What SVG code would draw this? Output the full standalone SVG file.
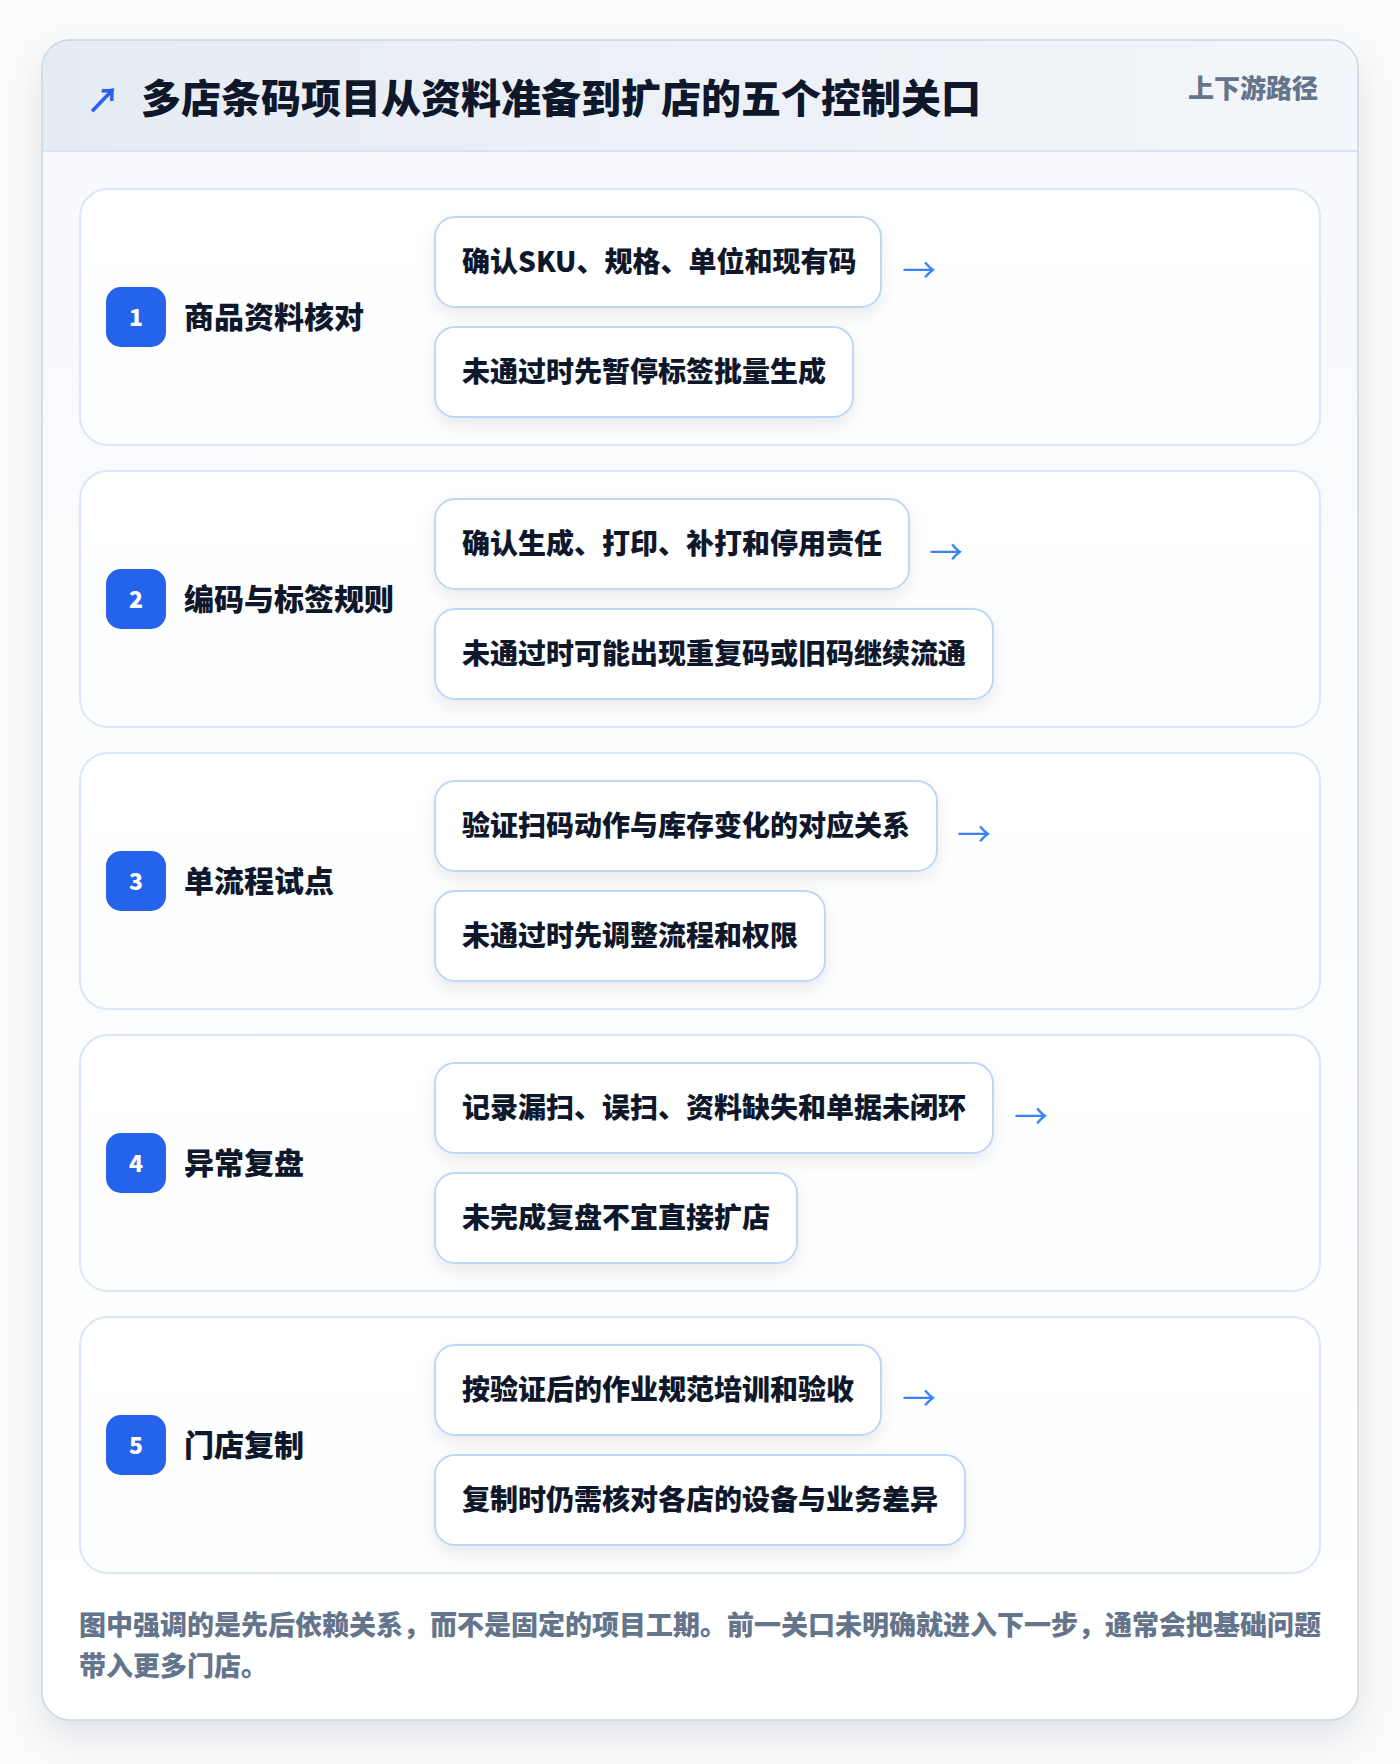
<svg xmlns="http://www.w3.org/2000/svg" width="1400" height="1764" viewBox="0 0 1400 1764">
<defs>
<style>
.t{font-family:'Noto Sans CJK SC','Noto Sans',sans-serif;font-weight:800}
.title{font-size:40px;fill:#0f172a;font-weight:900}
.tag{font-size:26px;fill:#64748b}
.lab{font-size:30px;fill:#0f172a}
.num{font-size:23px;fill:#ffffff}
.bx{font-size:28px;fill:#0f172a}
.arr{font-size:34px;fill:#3b82f6;font-weight:400}
.foot{font-size:27px;fill:#64748b}
.row{fill:url(#rowg);stroke:#dbe7f8;stroke-width:2}
.sub{fill:#ffffff;stroke:#bfd6f6;stroke-width:2}
.badge{fill:#2563eb}
</style>
<linearGradient id="hdr" x1="0" y1="0" x2="1" y2="0">
<stop offset="0" stop-color="#e6ecf4"/>
<stop offset="1" stop-color="#f3f6fa"/>
</linearGradient>
<linearGradient id="body" x1="0" y1="0" x2="0" y2="1">
<stop offset="0" stop-color="#f7f9fc"/>
<stop offset="1" stop-color="#ffffff"/>
</linearGradient>
<linearGradient id="rowg" x1="0" y1="0" x2="0" y2="1">
<stop offset="0" stop-color="#ffffff"/>
<stop offset="1" stop-color="#fcfdff"/>
</linearGradient>
<filter id="cardsh" x="-10%" y="-10%" width="120%" height="120%">
<feDropShadow dx="0" dy="16" stdDeviation="18" flood-color="#0f172a" flood-opacity="0.10"/>
</filter>
<filter id="subsh" x="-20%" y="-30%" width="140%" height="180%">
<feDropShadow dx="0" dy="7" stdDeviation="8" flood-color="#0f172a" flood-opacity="0.08"/>
</filter>
<clipPath id="cardclip"><rect x="42" y="40" width="1316" height="1680" rx="28"/></clipPath>
</defs>
<rect x="0" y="0" width="1400" height="1764" fill="#fafbfc"/>
<g id="card">
<rect x="42" y="40" width="1316" height="1680" rx="28" fill="url(#body)" filter="url(#cardsh)"/>
<g clip-path="url(#cardclip)">
<rect x="42" y="40" width="1316" height="112" fill="url(#hdr)"/>
<line x1="42" y1="151" x2="1358" y2="151" stroke="#d6e4f6" stroke-width="2"/>
</g>
<rect x="42" y="40" width="1316" height="1680" rx="28" fill="none" stroke="#cdd6e2" stroke-width="1.5"/>
</g>
<g id="header">
<text class="t" x="86" y="113" font-size="34" fill="#2563eb" style="font-weight:700">↗</text>
<text class="t title" x="141" y="113">多店条码项目从资料准备到扩店的五个控制关口</text>
<text class="t tag" x="1318" y="98" text-anchor="end">上下游路径</text>
</g>
<g id="node1">
<rect class="row" x="80" y="189" width="1240" height="256" rx="28"/>
<rect class="badge" x="106" y="287" width="60" height="60" rx="15"/>
<text class="t num" x="136" y="326" text-anchor="middle">1</text>
<text class="t lab" x="184" y="328">商品资料核对</text>
<rect class="sub" x="435" y="217" width="446" height="90" rx="20" filter="url(#subsh)"/>
<text class="t bx" x="462" y="272">确认SKU、规格、单位和现有码</text>
<rect class="sub" x="435" y="327" width="418" height="90" rx="20" filter="url(#subsh)"/>
<text class="t bx" x="462" y="382">未通过时先暂停标签批量生成</text>
</g>
<g id="node2">
<rect class="row" x="80" y="471" width="1240" height="256" rx="28"/>
<rect class="badge" x="106" y="569" width="60" height="60" rx="15"/>
<text class="t num" x="136" y="608" text-anchor="middle">2</text>
<text class="t lab" x="184" y="610">编码与标签规则</text>
<rect class="sub" x="435" y="499" width="474" height="90" rx="20" filter="url(#subsh)"/>
<text class="t bx" x="462" y="554">确认生成、打印、补打和停用责任</text>
<rect class="sub" x="435" y="609" width="558" height="90" rx="20" filter="url(#subsh)"/>
<text class="t bx" x="462" y="664">未通过时可能出现重复码或旧码继续流通</text>
</g>
<g id="node3">
<rect class="row" x="80" y="753" width="1240" height="256" rx="28"/>
<rect class="badge" x="106" y="851" width="60" height="60" rx="15"/>
<text class="t num" x="136" y="890" text-anchor="middle">3</text>
<text class="t lab" x="184" y="892">单流程试点</text>
<rect class="sub" x="435" y="781" width="502" height="90" rx="20" filter="url(#subsh)"/>
<text class="t bx" x="462" y="836">验证扫码动作与库存变化的对应关系</text>
<rect class="sub" x="435" y="891" width="390" height="90" rx="20" filter="url(#subsh)"/>
<text class="t bx" x="462" y="946">未通过时先调整流程和权限</text>
</g>
<g id="node4">
<rect class="row" x="80" y="1035" width="1240" height="256" rx="28"/>
<rect class="badge" x="106" y="1133" width="60" height="60" rx="15"/>
<text class="t num" x="136" y="1172" text-anchor="middle">4</text>
<text class="t lab" x="184" y="1174">异常复盘</text>
<rect class="sub" x="435" y="1063" width="558" height="90" rx="20" filter="url(#subsh)"/>
<text class="t bx" x="462" y="1118">记录漏扫、误扫、资料缺失和单据未闭环</text>
<rect class="sub" x="435" y="1173" width="362" height="90" rx="20" filter="url(#subsh)"/>
<text class="t bx" x="462" y="1228">未完成复盘不宜直接扩店</text>
</g>
<g id="node5">
<rect class="row" x="80" y="1317" width="1240" height="256" rx="28"/>
<rect class="badge" x="106" y="1415" width="60" height="60" rx="15"/>
<text class="t num" x="136" y="1454" text-anchor="middle">5</text>
<text class="t lab" x="184" y="1456">门店复制</text>
<rect class="sub" x="435" y="1345" width="446" height="90" rx="20" filter="url(#subsh)"/>
<text class="t bx" x="462" y="1400">按验证后的作业规范培训和验收</text>
<rect class="sub" x="435" y="1455" width="530" height="90" rx="20" filter="url(#subsh)"/>
<text class="t bx" x="462" y="1510">复制时仍需核对各店的设备与业务差异</text>
</g>
<g id="connectors">
<text class="t arr" x="902" y="283">→</text>
<text class="t arr" x="929" y="565">→</text>
<text class="t arr" x="957" y="847">→</text>
<text class="t arr" x="1014" y="1129">→</text>
<text class="t arr" x="902" y="1411">→</text>
</g>
<g id="footer">
<text class="t foot" x="79" y="1635">图中强调的是先后依赖关系，而不是固定的项目工期。前一关口未明确就进入下一步，通常会把基础问题</text>
<text class="t foot" x="79" y="1676">带入更多门店。</text>
</g>
</svg>
